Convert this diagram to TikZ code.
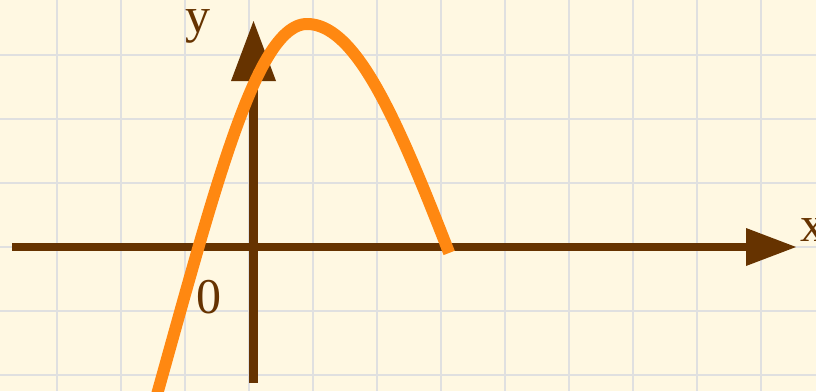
\documentclass[tikz,border=0pt]{standalone}
\usepackage{fontspec}
\setmainfont{Liberation Serif}
\definecolor{bgcream}{HTML}{FFF8E2}
\definecolor{gridgray}{HTML}{E0E0E0}
\definecolor{axisbrown}{HTML}{663300}
\definecolor{curveorange}{HTML}{FF8811}
\tikzset{
  gridline/.style={draw=gridgray, line width=2.5pt},
  axisline/.style={draw=axisbrown, line width=8.5pt},
  axishead/.style={fill=axisbrown},
  curveline/.style={draw=curveorange, line width=12pt, line cap=butt, line join=round},
  lbl/.style={text=axisbrown, font=\fontsize{50}{50}\selectfont, inner sep=0pt}
}
\begin{document}
\begin{tikzpicture}[x=1pt,y=-1pt]
\useasboundingbox (0,0) rectangle (816,391);
\clip (0,0) rectangle (816,391);
\fill[bgcream] (0,0) rectangle (816,391);
% grid
\foreach \gx in {57,121,...,761} \draw[gridline] (\gx,0) -- (\gx,391);
\foreach \gy in {55,119,...,375} \draw[gridline] (0,\gy) -- (816,\gy);
% axes
\draw[axisline] (12,247) -- (750,247);
\fill[axishead] (746,228) -- (796,247) -- (746,266) -- cycle;
\draw[axisline] (253.5,383) -- (253.5,78);
\fill[axishead] (231,81) -- (253.5,21) -- (276,81) -- cycle;
% curve
\draw[curveline]
  plot[domain=19.5:0, samples=70, variable=\s]
    ({307-6.8*\s-1.39*(\s*\s/100)^2}, {24+\s*\s})
  -- plot[domain=0:15.13, samples=60, variable=\s]
    ({307+8.6*\s+2.3*(\s*\s/100)^2}, {24+\s*\s});
% labels
\node[lbl, anchor=base] (ylab) at (198,32) {y};
\node[lbl, anchor=base] (zerolab) at (209,313) {0};
\node[lbl, anchor=base west] (xlab) at (800,241) {x};
\end{tikzpicture}
\end{document}
